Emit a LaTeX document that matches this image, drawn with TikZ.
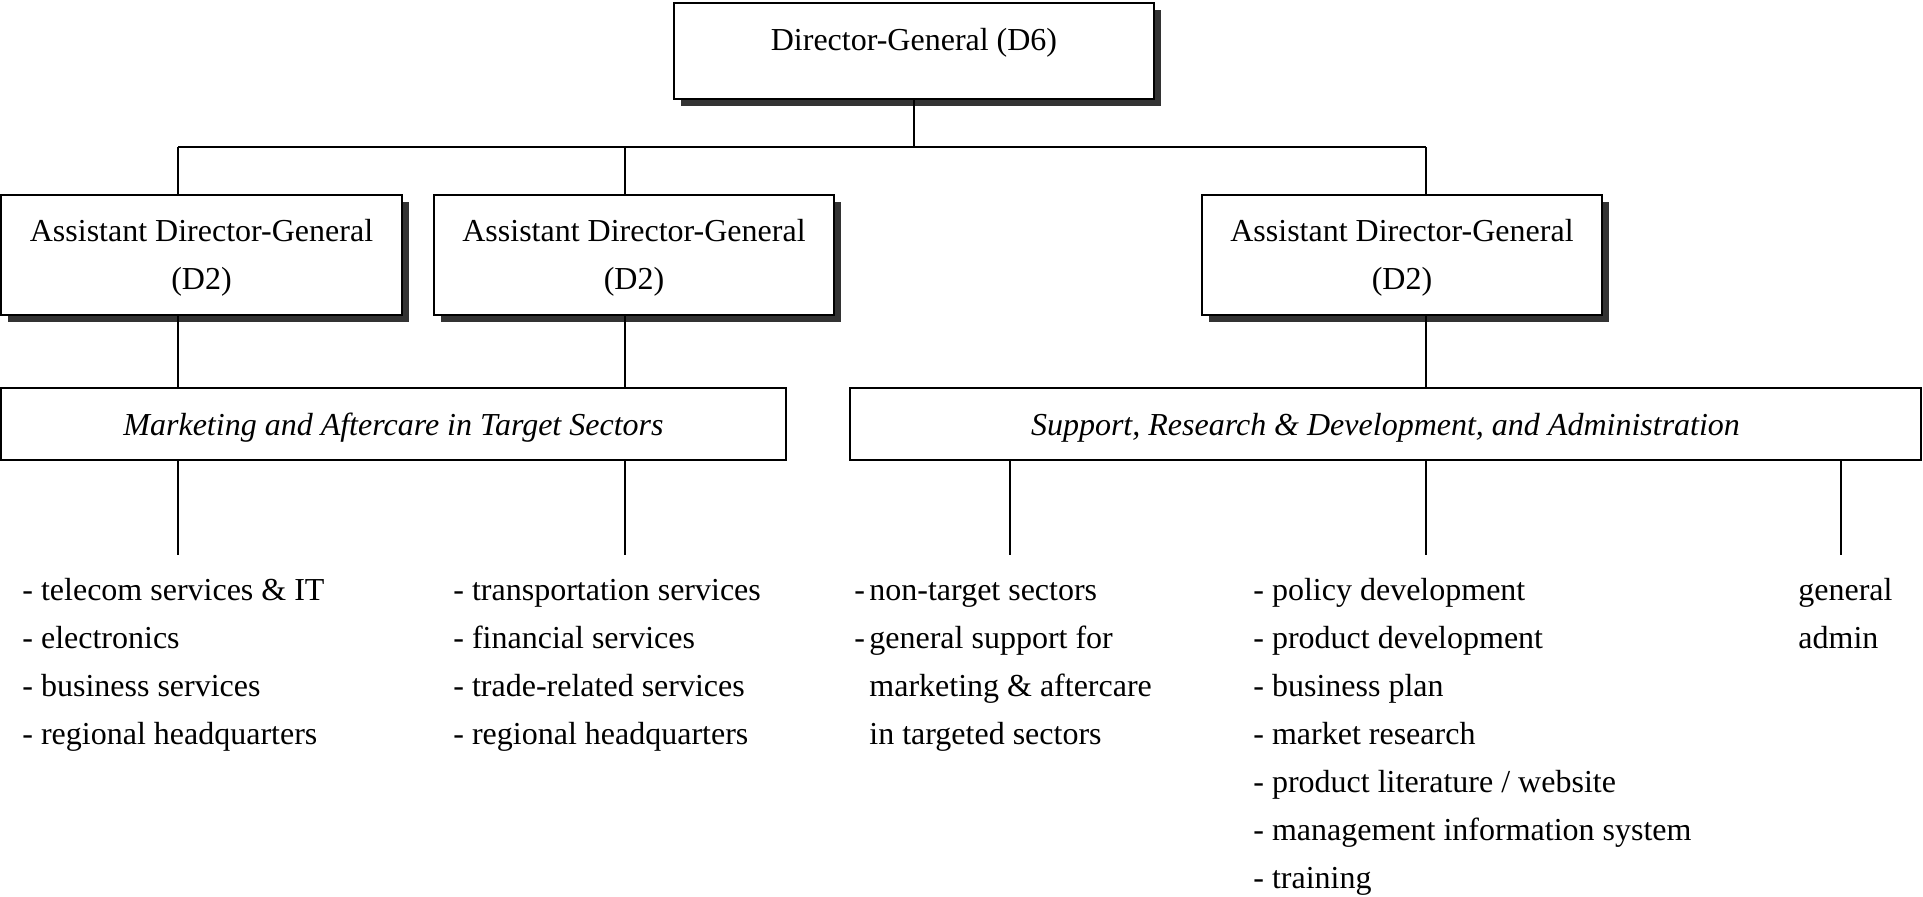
\documentclass[tikz,border=0pt]{standalone}
\usepackage{fontspec}
\setmainfont{Liberation Serif}
\usetikzlibrary{shadows}
\begin{document}
\begin{tikzpicture}[x=0.5pt,y=-0.5pt,
  box/.style={draw, line width=1pt, fill=white, inner sep=0pt, font=\fontsize{16}{24}\selectfont, align=center},
  shbox/.style={box, drop shadow={shadow xshift=3.5pt, shadow yshift=-3.5pt, fill=black!80, opacity=1}},
  unitbox/.style={box, font=\fontsize{16}{24}\selectfont\itshape, minimum height=36pt},
  conn/.style={line width=0.8pt},
  item/.style={anchor=base west, inner sep=0pt, font=\fontsize{16}{24}\selectfont}]
\useasboundingbox (0,0) rectangle (1923,896);

% boxes
\node[shbox, minimum width=240pt, text height=23.5pt, text depth=24.5pt] (dg) at (914,51) {Director-General (D6)};
\node[shbox, minimum width=200.5pt, minimum height=60pt] (adg1) at (201.5,255) {\rule{0pt}{13.6pt}Assistant Director-General\\(D2)};
\node[shbox, minimum width=200pt, minimum height=60pt] (adg2) at (634,255) {\rule{0pt}{13.6pt}Assistant Director-General\\(D2)};
\node[shbox, minimum width=200pt, minimum height=60pt] (adg3) at (1402,255) {\rule{0pt}{13.6pt}Assistant Director-General\\(D2)};
\node[unitbox, minimum width=392.5pt] (mkt) at (393.5,424) {\rule{0pt}{14.4pt}Marketing and Aftercare in Target Sectors};
\node[unitbox, minimum width=535.5pt] (sup) at (1385.5,424) {\rule{0pt}{14.4pt}Support, Research \& Development, and Administration};

% connectors
\coordinate (b1) at (178,147);
\coordinate (b2) at (625,147);
\coordinate (b3) at (1426,147);
\coordinate (e1) at (178,555);
\coordinate (e2) at (625,555);
\coordinate (e3) at (1010,555);
\coordinate (e4) at (1426,555);
\coordinate (e5) at (1841,555);
\draw[conn] (dg.south) -- (dg.south |- b1);
\draw[conn] (b1) -- (b3);
\draw[conn] (b1) -- (b1 |- adg1.north);
\draw[conn] (b2) -- (b2 |- adg2.north);
\draw[conn] (b3) -- (b3 |- adg3.north);
\draw[conn] (b1 |- adg1.south) -- (b1 |- mkt.north);
\draw[conn] (b2 |- adg2.south) -- (b2 |- mkt.north);
\draw[conn] (b3 |- adg3.south) -- (b3 |- sup.north);
\draw[conn] (e1 |- mkt.south) -- (e1);
\draw[conn] (e2 |- mkt.south) -- (e2);
\draw[conn] (e3 |- sup.south) -- (e3);
\draw[conn] (e4 |- sup.south) -- (e4);
\draw[conn] (e5 |- sup.south) -- (e5);

% lists
\foreach \t [count=\i] in {{- telecom services \& IT},{- electronics},{- business services},{- regional headquarters}}
  \node[item] (ca\i) at (22,552.5+48*\i) {\t};
\foreach \t [count=\i] in {{- transportation services},{- financial services},{- trade-related services},{- regional headquarters}}
  \node[item] (cb\i) at (453,552.5+48*\i) {\t};
\foreach \t [count=\i] in {{\makebox[7.5pt][l]{-}non-target sectors},{\makebox[7.5pt][l]{-}general support for},{\hspace*{7.5pt}marketing \& aftercare},{\hspace*{7.5pt}in targeted sectors}}
  \node[item] (cc\i) at (854,552.5+48*\i) {\t};
\foreach \t [count=\i] in {{- policy development},{- product development},{- business plan},{- market research},{- product literature / website},{- management information system},{- training}}
  \node[item] (cd\i) at (1253,552.5+48*\i) {\t};
\foreach \t [count=\i] in {{general},{admin}}
  \node[item] (ce\i) at (1798,552.5+48*\i) {\t};
\end{tikzpicture}
\end{document}
